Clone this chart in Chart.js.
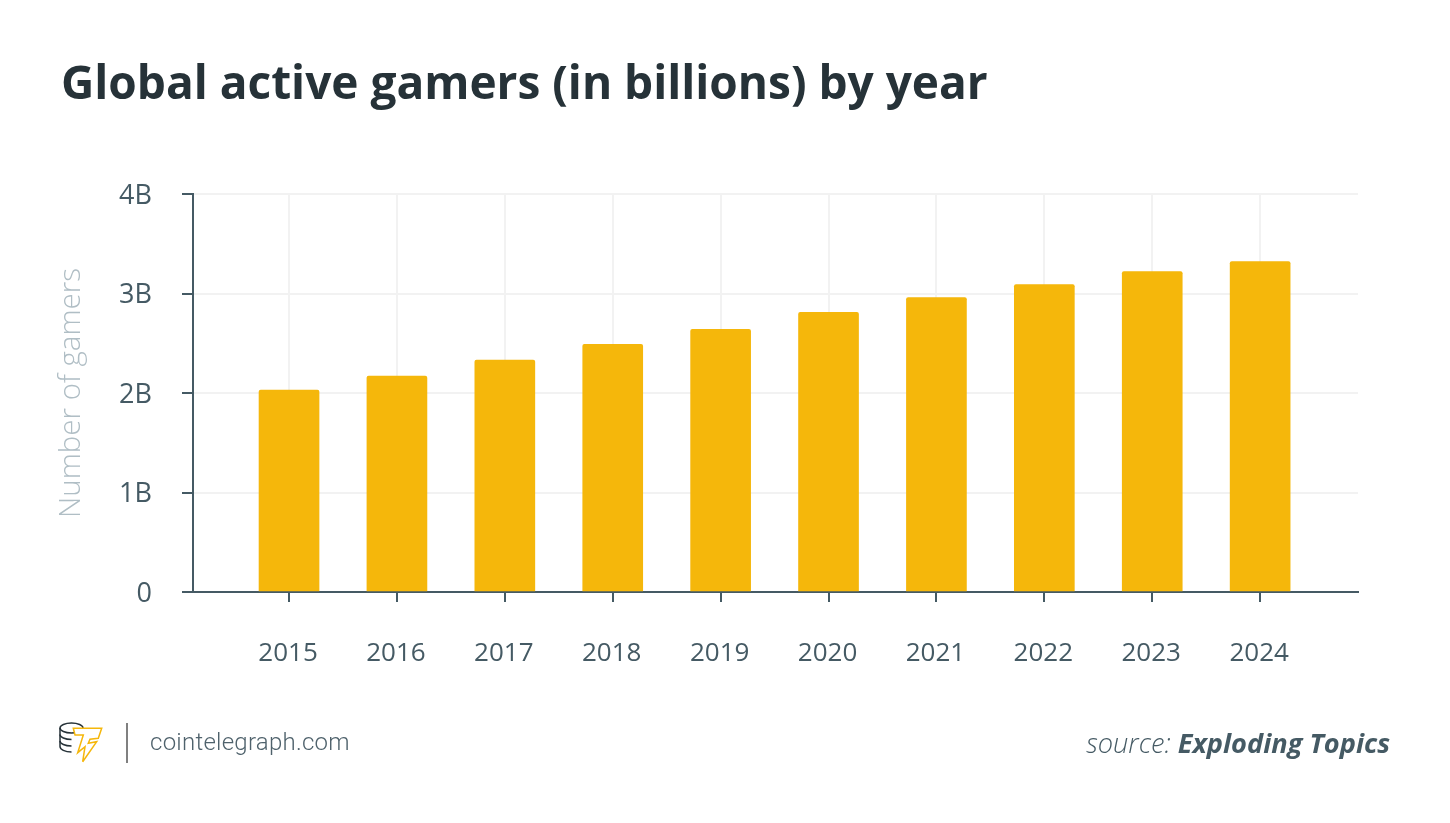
<!DOCTYPE html>
<html>
<head>
<meta charset="utf-8">
<title>Global active gamers</title>
<script src="https://cdn.jsdelivr.net/npm/chart.js@4"></script>
<style>
  html, body { margin: 0; padding: 0; background: #fff; }
  body { width: 1450px; height: 823px; position: relative; overflow: hidden; font-family: "Open Sans", sans-serif; }
  #wrap { position: absolute; left: 0; top: 0; width: 1450px; height: 823px; }
  #title { position: absolute; left: 61px; top: 51px; margin: 0; font-size: 46px; line-height: 60px; font-weight: 700; color: #263238; white-space: nowrap; }
  #site { position: absolute; left: 150px; top: 727px; font-family: Roboto, sans-serif; font-weight: 300; font-size: 24px; line-height: 30px; letter-spacing: 0.25px; color: #4f626c; }
  #source { position: absolute; right: 60px; top: 725px; font-size: 27.2px; line-height: 36px; font-style: italic; font-weight: 300; color: #455a64; white-space: nowrap; }
  #source b { font-weight: 700; }
  #divider { position: absolute; left: 126px; top: 723px; width: 2px; height: 40px; background: #808080; }
  #logo { position: absolute; left: 58px; top: 722px; }
</style>
</head>
<body>
<div id="wrap"><canvas id="gamersChart" width="1450" height="823"></canvas></div>
<h1 id="title">Global active gamers (in billions) by year</h1>
<svg id="logo" width="46" height="44" viewBox="0 0 46 44" fill="none">
  <!-- coin stack -->
  <g stroke="#263238" stroke-width="1.5">
    <ellipse cx="13.500" cy="6" rx="11.500" ry="5"/>
    <path d="M2 6v18.500c0 2.800 5 5.500 11.500 5.500"/>
    <path d="M2 12.500c0 2.800 5 5 11.500 5M2 19c0 2.800 5 5 11.500 5"/>
  </g>
  <!-- lightning T -->
  <path d="M15.300 6.300H43.700L40.300 16.300 32 17.300 30.300 21.300 38.700 19.700 24.700 39.700 27 24.700 19.700 30.700 25.300 13H17Z" fill="#fff" stroke="#f5b70b" stroke-width="1.500"/>
</svg>
<div id="divider"></div>
<div id="site">cointelegraph.com</div>
<div id="source">source: <b>Exploding Topics</b></div>
<script>
// values
const years = [2015, 2016, 2017, 2018, 2019, 2020, 2021, 2022, 2023, 2024];
const gamers = [2.03, 2.17, 2.33, 2.49, 2.64, 2.81, 2.96, 3.09, 3.22, 3.32];
const yTicks = [0, 1, 2, 3, 4];

const axisColor = '#455a64';
const gridColor = '#f2f2f2';

Chart.defaults.font.family = '"Open Sans", sans-serif';
Chart.defaults.animation = false;

const ctx = document.getElementById('gamersChart').getContext('2d');
new Chart(ctx, {
  type: 'bar',
  data: {
    datasets: [{
      data: years.map((y, i) => ({ x: y, y: gamers[i] })),
      backgroundColor: '#f5b70b',
      barThickness: 60,
      borderRadius: { topLeft: 2, topRight: 2 },
      borderSkipped: 'bottom'
    }]
  },
  options: {
    responsive: false,
    devicePixelRatio: 1,
    layout: { padding: { top: 194, right: 92, left: 0, bottom: 0 } },
    plugins: { legend: { display: false }, tooltip: { enabled: false } },
    scales: {
      x: {
        type: 'linear',
        offset: false,
        min: 2014.11,
        max: 2024.907,
        afterFit: s => { s.height = 823 - 592; },
        border: { color: axisColor, width: 2 },
        grid: { offset: false, color: gridColor, lineWidth: 2, tickColor: axisColor, tickLength: 10, tickWidth: 2 },
        ticks: {
          stepSize: 1,
          includeBounds: false,
          maxRotation: 0,
          padding: 36,
          labelOffset: -1,
          color: axisColor,
          font: { size: 26 },
          callback: v => String(v)
        }
      },
      y: {
        min: 0,
        max: 4,
        afterFit: s => { s.width = 193; },
        afterBuildTicks: s => { s.ticks = yTicks.map(v => ({ value: v })); },
        border: { color: axisColor, width: 2 },
        title: {
          display: true,
          text: 'Number of gamers',
          color: '#b0bec5',
          font: { size: 29.5, weight: 300 },
          padding: { top: 54, bottom: 0 }
        },
        grid: { color: gridColor, lineWidth: 2, tickColor: axisColor, tickLength: 11, tickWidth: 2 },
        ticks: {
          padding: 30,
          labelOffset: 2,
          color: axisColor,
          font: { size: 27 },
          callback: v => v === 0 ? '0' : v + 'B'
        }
      }
    }
  }
});
</script>
</body>
</html>
